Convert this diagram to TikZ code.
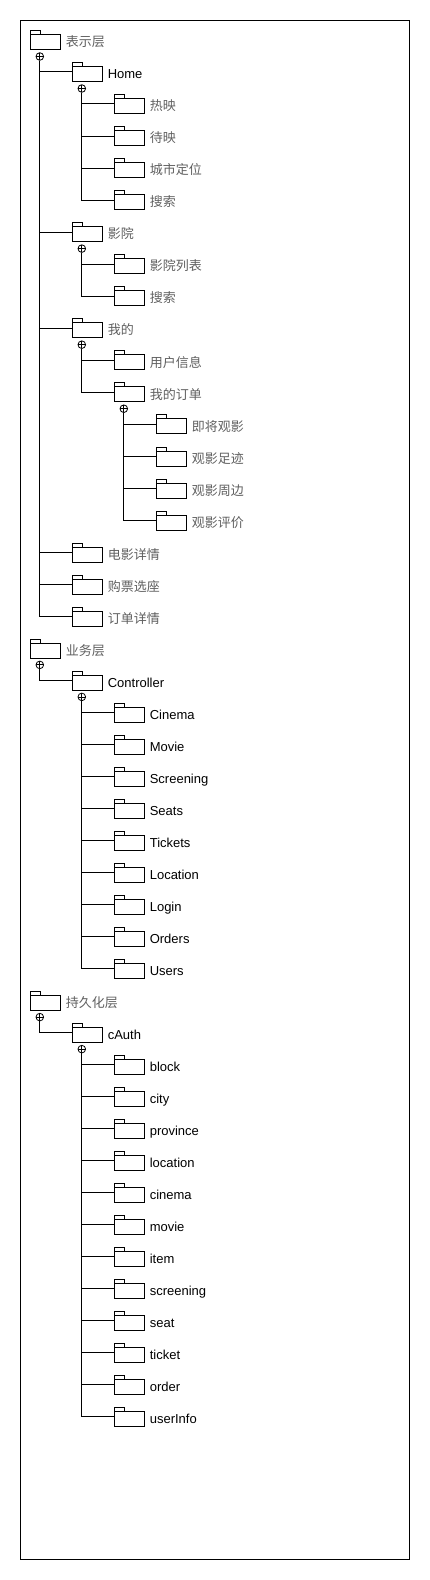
\documentclass[tikz,border=0pt]{standalone}
\usepackage{fontspec}
\setmainfont{Liberation Sans}
\newfontfamily\cjk{Noto Sans CJK SC}
\definecolor{zhgray}{RGB}{95,95,95}
\newcommand\zh[1]{{\cjk\fontsize{13pt}{15pt}\selectfont\color{zhgray}#1}}
\tikzset{
  folder/.style={draw, line width=0.9pt, minimum width=30pt, minimum height=15pt, inner sep=0pt, outer sep=0pt},
  tabline/.style={draw, line width=0.9pt},
  lbl/.style={anchor=base west, inner sep=0pt, font=\fontsize{13pt}{15pt}\selectfont},
  plusc/.style={draw, circle, line width=0.8pt, minimum size=7.6pt, inner sep=0pt,
    path picture={\draw[line width=0.8pt] (path picture bounding box.north) -- (path picture bounding box.south)
      (path picture bounding box.west) -- (path picture bounding box.east);}},
  conn/.style={draw, line width=0.9pt}
}
\newcommand\fold[4]{%
  \pgfmathsetmacro\fx{30.3+42*#2+15}%
  \pgfmathsetmacro\fy{-(34.7+32.02*#3+7.5)}%
  \node[folder] (#1) at (\fx pt,\fy pt) {};
  \draw[tabline] (#1.north west) rectangle ++(10pt,4pt);
  \node[lbl] (#1t) at ([xshift=5.3pt,yshift=-4.6pt]#1.east) {#4};
}
\newcommand\pmark[1]{\node[plusc] (#1p) at ([xshift=9.5pt,yshift=-6.8pt]#1.south west) {};}
\newcommand\tlink[2]{\draw[conn] (#1p.south) |- ([yshift=2.3pt]#2.west);}
\begin{document}
\begin{tikzpicture}
\useasboundingbox (0pt,0pt) rectangle (430pt,-1580pt);
\draw[line width=0.9pt] (20.3pt,-20pt) rectangle (409.7pt,-1559.3pt);
% presentation layer
\fold{a}{0}{0}{\zh{表示层}}
\fold{a1}{1}{1}{Home}
\fold{a11}{2}{2}{\zh{热映}}
\fold{a12}{2}{3}{\zh{待映}}
\fold{a13}{2}{4}{\zh{城市定位}}
\fold{a14}{2}{5}{\zh{搜索}}
\fold{a2}{1}{6}{\zh{影院}}
\fold{a21}{2}{7}{\zh{影院列表}}
\fold{a22}{2}{8}{\zh{搜索}}
\fold{a3}{1}{9}{\zh{我的}}
\fold{a31}{2}{10}{\zh{用户信息}}
\fold{a32}{2}{11}{\zh{我的订单}}
\fold{a321}{3}{12}{\zh{即将观影}}
\fold{a322}{3}{13}{\zh{观影足迹}}
\fold{a323}{3}{14}{\zh{观影周边}}
\fold{a324}{3}{15}{\zh{观影评价}}
\fold{a4}{1}{16}{\zh{电影详情}}
\fold{a5}{1}{17}{\zh{购票选座}}
\fold{a6}{1}{18}{\zh{订单详情}}
% business layer
\fold{b}{0}{19}{\zh{业务层}}
\fold{b1}{1}{20}{Controller}
\fold{b11}{2}{21}{Cinema}
\fold{b12}{2}{22}{Movie}
\fold{b13}{2}{23}{Screening}
\fold{b14}{2}{24}{Seats}
\fold{b15}{2}{25}{Tickets}
\fold{b16}{2}{26}{Location}
\fold{b17}{2}{27}{Login}
\fold{b18}{2}{28}{Orders}
\fold{b19}{2}{29}{Users}
% persistence layer
\fold{c}{0}{30}{\zh{持久化层}}
\fold{c1}{1}{31}{cAuth}
\fold{c11}{2}{32}{block}
\fold{c12}{2}{33}{city}
\fold{c13}{2}{34}{province}
\fold{c14}{2}{35}{location}
\fold{c15}{2}{36}{cinema}
\fold{c16}{2}{37}{movie}
\fold{c17}{2}{38}{item}
\fold{c18}{2}{39}{screening}
\fold{c19}{2}{40}{seat}
\fold{c20}{2}{41}{ticket}
\fold{c21}{2}{42}{order}
\fold{c22}{2}{43}{userInfo}
% plus marks
\pmark{a}\pmark{a1}\pmark{a2}\pmark{a3}\pmark{a32}
\pmark{b}\pmark{b1}
\pmark{c}\pmark{c1}
% connectors
\foreach \k in {a1,a2,a3,a4,a5,a6} {\tlink{a}{\k}}
\foreach \k in {a11,a12,a13,a14} {\tlink{a1}{\k}}
\foreach \k in {a21,a22} {\tlink{a2}{\k}}
\foreach \k in {a31,a32} {\tlink{a3}{\k}}
\foreach \k in {a321,a322,a323,a324} {\tlink{a32}{\k}}
\tlink{b}{b1}
\foreach \k in {b11,b12,b13,b14,b15,b16,b17,b18,b19} {\tlink{b1}{\k}}
\tlink{c}{c1}
\foreach \k in {c11,c12,c13,c14,c15,c16,c17,c18,c19,c20,c21,c22} {\tlink{c1}{\k}}
\end{tikzpicture}
\end{document}
